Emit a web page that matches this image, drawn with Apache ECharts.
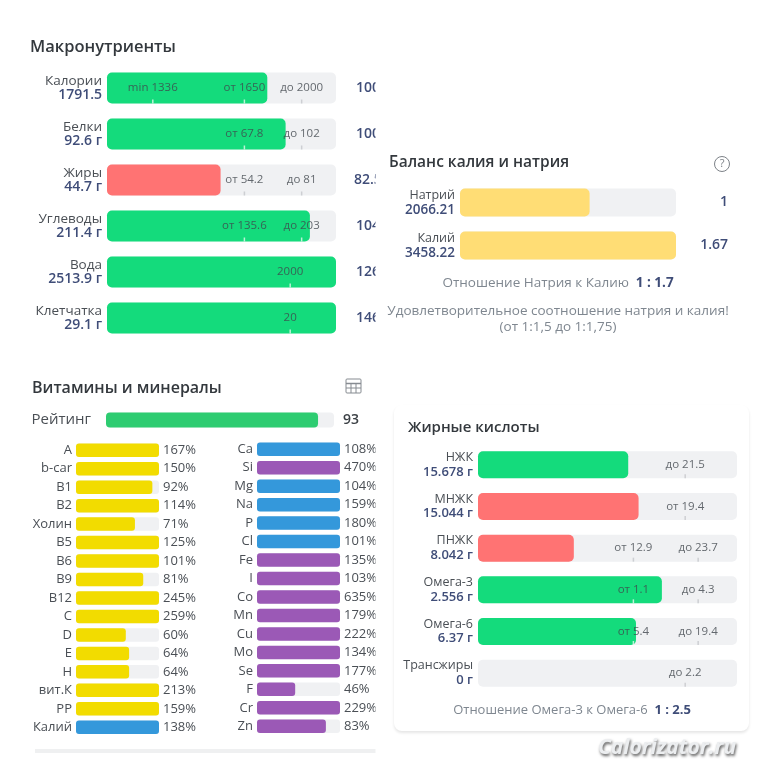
<!DOCTYPE html>
<html>
<head>
<meta charset="utf-8" />
<title>Калоризатор</title>
<style>
html, body { margin: 0; padding: 0; background: #fff; }
#chartmain { width: 759px; height: 768px; }
</style>
</head>
<body>
<div id="chartmain"></div>
<script src="https://cdn.jsdelivr.net/npm/echarts@6/dist/echarts.min.js"></script>
<script>
// макронутриенты
var macroNames = ['Калории', 'Белки', 'Жиры', 'Углеводы', 'Вода', 'Клетчатка'];
var macroAmounts = ['1791.5', '92.6 г', '44.7 г', '211.4 г', '2513.9 г', '29.1 г'];
var macroFill = [70, 78, 49.6, 88.6, 100, 100];
var macroState = ['ok', 'ok', 'low', 'ok', 'ok', 'ok'];
var macroPercent = ['100%', '100%', '82.5%', '104%', '126%', '146%'];
var macroMarkRow = [0, 0, 0, 1, 1, 2, 2, 3, 3, 4, 5];
var macroMarkPos = [20, 60, 85, 60, 85, 60, 85, 60, 85, 80, 80];
var macroMarkText = ['min 1336', 'от 1650', 'до 2000', 'от 67.8', 'до 102', 'от 54.2', 'до 81', 'от 135.6', 'до 203', '2000', '20'];

// баланс калия и натрия
var balanceNames = ['Натрий', 'Калий'];
var balanceAmounts = ['2066.21', '3458.22'];
var balanceFill = [60, 100];
var balanceRatio = ['1', '1.67'];

// витамины и минералы
var ratingValue = 93;
var vitaminNames = ['A', 'b-car', 'B1', 'B2', 'Холин', 'B5', 'B6', 'B9', 'B12', 'C', 'D', 'E', 'H', 'вит.К', 'PP', 'Калий'];
var vitaminValues = [167, 150, 92, 114, 71, 125, 101, 81, 245, 259, 60, 64, 64, 213, 159, 138];
var mineralNames = ['Ca', 'Si', 'Mg', 'Na', 'P', 'Cl', 'Fe', 'I', 'Co', 'Mn', 'Cu', 'Mo', 'Se', 'F', 'Cr', 'Zn'];
var mineralValues = [108, 470, 104, 159, 180, 101, 135, 103, 635, 179, 222, 134, 177, 46, 229, 83];
var blueMinerals = ['Ca', 'Mg', 'Na', 'P', 'Cl', 'Калий'];

// жирные кислоты
var fatNames = ['НЖК', 'МНЖК', 'ПНЖК', 'Омега-3', 'Омега-6', 'Трансжиры'];
var fatAmounts = ['15.678 г', '15.044 г', '8.042 г', '2.556 г', '6.37 г', '0 г'];
var fatFill = [58, 62, 37, 71, 61, 0];
var fatState = ['ok', 'low', 'low', 'ok', 'ok', 'ok'];
var fatMarkRow = [0, 1, 2, 2, 3, 3, 4, 4, 5];
var fatMarkPos = [80, 80, 60, 85, 60, 85, 60, 85, 80];
var fatMarkText = ['до 21.5', 'от 19.4', 'от 12.9', 'до 23.7', 'от 1.1', 'до 4.3', 'от 5.4', 'до 19.4', 'до 2.2'];

var FONT = '"Open Sans", "Noto Sans", sans-serif';
var stateColor = { ok: '#14db7c', low: '#ff7373' };
var TRACK = '#f0f1f3';
var grids = [], xAxes = [], yAxes = [], series = [];

// одна панель: сетка, оси, дорожка, заливка и подпись справа
function addPanel(p) {
	var idx = grids.length;
	var z = p.z || 2;
	grids.push({ left: p.left, top: p.top, width: p.width, height: p.height });
	xAxes.push({ gridIndex: idx, type: 'value', min: 0, max: 100, show: false });
	yAxes.push({
		gridIndex: idx, type: 'category', inverse: true, data: p.names, z: z,
		axisLine: { show: false }, axisTick: { show: false }, splitLine: { show: false },
		axisLabel: Object.assign({ margin: 5, interval: 0, fontFamily: FONT }, p.axisLabel)
	});
	series.push({
		type: 'bar', xAxisIndex: idx, yAxisIndex: idx, z: z, silent: true,
		barWidth: p.barWidth, barGap: '-100%',
		data: p.names.map(function() { return 100; }),
		itemStyle: { color: TRACK, borderRadius: p.radius },
		label: Object.assign({
			show: true, position: 'right', fontFamily: FONT,
			formatter: function(o) { return p.rightText[o.dataIndex]; }
		}, p.rightLabel)
	});
	series.push({
		type: 'bar', xAxisIndex: idx, yAxisIndex: idx, z: z, silent: true,
		barWidth: p.barWidth, barGap: '-100%',
		data: p.fill.map(function(v, i) {
			return { value: v, itemStyle: { color: p.colors[i] } };
		}),
		itemStyle: { borderRadius: p.radius }
	});
	if (p.markRow) {
		series.push({
			type: 'scatter', xAxisIndex: idx, yAxisIndex: idx, z: z, silent: true,
			symbol: 'rect', symbolSize: [1.5, 4], symbolOffset: [0, p.barWidth / 2 - 2],
			data: p.markRow.map(function(row, i) {
				var onFill = p.markPos[i] < p.fill[row];
				return {
					value: [p.markPos[i], row],
					itemStyle: { color: onFill ? '#e6f7ee' : '#c4c7cb' },
					label: { formatter: p.markText[i] }
				};
			}),
			label: {
				show: true, position: 'inside', offset: [0, -(p.barWidth / 2 - 2)],
				fontFamily: FONT, fontSize: 11.5, color: '#40464c'
			}
		});
	}
}

function twoLine(names, amounts, nameSize, valueSize) {
	return {
		formatter: function(v, i) { return '{n|' + names[i] + '}\n{v|' + amounts[i] + '}'; },
		rich: {
			n: { fontFamily: FONT, fontSize: nameSize, color: '#4a4f55', lineHeight: 14.5, align: 'right' },
			v: { fontFamily: FONT, fontSize: valueSize, fontWeight: 600, color: '#3f4d78', lineHeight: 14.5, align: 'right' }
		}
	};
}

addPanel({
	left: 107, top: 65, width: 229, height: 276, barWidth: 31, radius: 5,
	names: macroNames, fill: macroFill, colors: macroState.map(function(s) { return stateColor[s]; }),
	rightText: macroPercent,
	rightLabel: { distance: 38, align: 'center', fontSize: 14, fontWeight: 600, color: '#3f4d78' },
	axisLabel: twoLine(macroNames, macroAmounts, 13.5, 14),
	markRow: macroMarkRow, markPos: macroMarkPos, markText: macroMarkText
});

addPanel({
	left: 106, top: 410, width: 228, height: 20, barWidth: 15, radius: 4,
	names: ['Рейтинг'], fill: [ratingValue], colors: ['#2ecc71'],
	rightText: [String(ratingValue)],
	rightLabel: { distance: 9, fontSize: 14, fontWeight: 600, color: '#3c4146' },
	axisLabel: { margin: 15, fontSize: 15, fontWeight: 500, color: '#4a4f55' }
});

function percentText(v) { return v + '%'; }
function capped(v) { return Math.min(v, 100); }
function vitaminColor(name, yellow) {
	return blueMinerals.indexOf(name) >= 0 ? '#3498db' : yellow;
}
var listLabel = { margin: 4, fontSize: 13, color: '#4a4f55' };
var listRight = { distance: 4, fontSize: 13, color: '#4a4f55' };

addPanel({
	left: 76, top: 441, width: 83, height: 295.5, barWidth: 13.5, radius: 3,
	names: vitaminNames, fill: vitaminValues.map(capped),
	colors: vitaminNames.map(function(n) { return vitaminColor(n, '#f2dc00'); }),
	rightText: vitaminValues.map(percentText), rightLabel: listRight, axisLabel: listLabel
});
addPanel({
	left: 257, top: 440, width: 83, height: 295.5, barWidth: 13.5, radius: 3,
	names: mineralNames, fill: mineralValues.map(capped),
	colors: mineralNames.map(function(n) { return vitaminColor(n, '#9b59b6'); }),
	rightText: mineralValues.map(percentText), rightLabel: listRight, axisLabel: listLabel
});

addPanel({
	z: 5, left: 460, top: 181, width: 216, height: 86, barWidth: 28, radius: 5,
	names: balanceNames, fill: balanceFill, colors: ['#ffdd75', '#ffdd75'],
	rightText: balanceRatio,
	rightLabel: { distance: 52, align: 'right', fontSize: 14, fontWeight: 600, color: '#3f4d78' },
	axisLabel: twoLine(balanceNames, balanceAmounts, 12.5, 13.5)
});

addPanel({
	z: 5, left: 478, top: 444, width: 259, height: 250, barWidth: 27, radius: 5,
	names: fatNames, fill: fatFill, colors: fatState.map(function(s) { return stateColor[s]; }),
	rightText: fatNames.map(function() { return ''; }), rightLabel: {},
	axisLabel: twoLine(fatNames, fatAmounts, 12.5, 13),
	markRow: fatMarkRow, markPos: fatMarkPos, markText: fatMarkText
});

function panelTitle(text, left, top, size) {
	return {
		text: text, left: left, top: top, padding: 0, z: 6,
		textStyle: { fontFamily: FONT, fontSize: size, fontWeight: 600, color: '#33383d' }
	};
}

function ratioText(label, ratio, x, y, size) {
	return {
		type: 'text', z: 6, x: x, y: y,
		style: {
			text: '{a|' + label + '}  {b|' + ratio + '}',
			align: 'center', verticalAlign: 'middle',
			rich: {
				a: { fontFamily: FONT, fontSize: size, fill: '#7f8790', color: '#7f8790' },
				b: { fontFamily: FONT, fontSize: size, fontWeight: 700, fill: '#3f4d78', color: '#3f4d78' }
			}
		}
	};
}

function plainText(text, x, y, size, color) {
	return {
		type: 'text', z: 6, x: x, y: y,
		style: { text: text, align: 'center', verticalAlign: 'middle', fontFamily: FONT, fontSize: size, fill: color }
	};
}

var option = {
	animation: false,
	backgroundColor: '#fff',
	title: [
		panelTitle('Макронутриенты', 30, 39, 16.5),
		panelTitle('Баланс калия и натрия', 389, 155, 15.5),
		panelTitle('Витамины и минералы', 32, 380, 16),
		panelTitle('Жирные кислоты', 408, 420, 15)
	],
	grid: grids, xAxis: xAxes, yAxis: yAxes, series: series,
	graphic: [
		// нижняя линия карточки витаминов
		{ type: 'rect', z: 1, shape: { x: 35, y: 749, width: 345, height: 4 }, style: { fill: '#eff0f1' } },
		// правые карточки обрезают подписи слева
		{ type: 'rect', z: 3, shape: { x: 375.5, y: 0, width: 384, height: 768 }, style: { fill: '#fff' } },
		{
			type: 'rect', z: 4, shape: { x: 394, y: 405, width: 355, height: 326, r: 8 },
			style: { fill: '#fff', shadowBlur: 3, shadowOffsetY: 2, shadowColor: 'rgba(0,0,0,0.10)' }
		},
		ratioText('Отношение Натрия к Калию', '1 : 1.7', 558, 283, 13.5),
		plainText('Удовлетворительное соотношение натрия и калия!', 558, 311, 13.5, '#7f8790'),
		plainText('(от 1:1,5 до 1:1,75)', 558, 327, 13.5, '#7f8790'),
		ratioText('Отношение Омега-3 к Омега-6', '1 : 2.5', 572, 710, 13),
		// значок вопроса
		{ type: 'circle', z: 6, shape: { cx: 722, cy: 164, r: 7.5 }, style: { fill: 'none', stroke: '#7d8288', lineWidth: 1 } },
		plainText('?', 722, 164, 11, '#7d8288'),
		// значок таблицы
		{ type: 'rect', z: 6, shape: { x: 346, y: 379, width: 15, height: 14, r: 1 }, style: { fill: 'none', stroke: '#868b91', lineWidth: 1 } },
		{ type: 'line', z: 6, shape: { x1: 346, y1: 383.5, x2: 361, y2: 383.5 }, style: { stroke: '#868b91', lineWidth: 1.5 } },
		{ type: 'line', z: 6, shape: { x1: 346, y1: 388, x2: 361, y2: 388 }, style: { stroke: '#868b91', lineWidth: 1 } },
		{ type: 'line', z: 6, shape: { x1: 351, y1: 383, x2: 351, y2: 393 }, style: { stroke: '#868b91', lineWidth: 1 } },
		{ type: 'line', z: 6, shape: { x1: 356, y1: 383, x2: 356, y2: 393 }, style: { stroke: '#868b91', lineWidth: 1 } },
		// водяной знак
		{
			type: 'text', z: 7, x: 667, y: 748,
			style: {
				text: 'Calorizator.ru', align: 'center', verticalAlign: 'middle',
				fontFamily: '"Open Sans", sans-serif', fontSize: 21, fontWeight: 700, fontStyle: 'italic',
				fill: '#eceef0', textShadowColor: 'rgba(0,0,0,0.65)', textShadowBlur: 3, textShadowOffsetX: 1, textShadowOffsetY: 2
			}
		}
	]
};

var myChart = echarts.init(document.getElementById('chartmain'));
myChart.setOption(option);
</script>
</body>
</html>
